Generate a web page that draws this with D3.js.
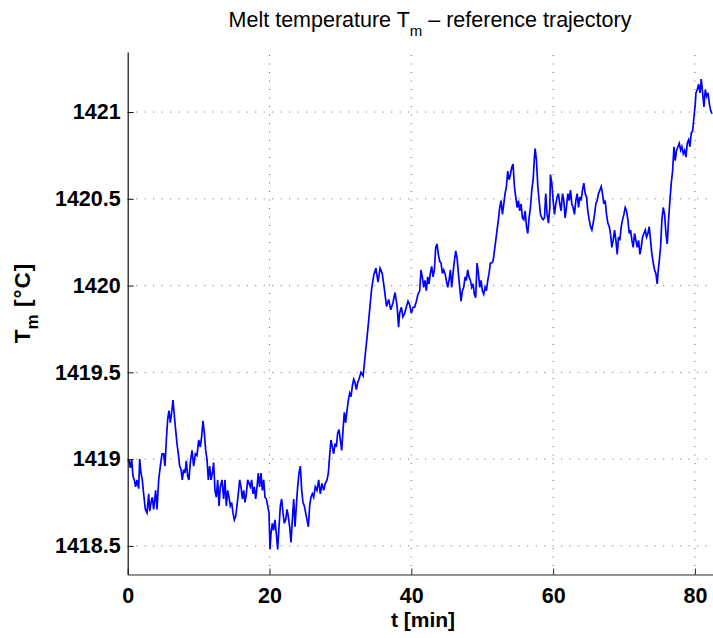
<!DOCTYPE html>
<html>
<head>
<meta charset="utf-8">
<script src="https://cdn.jsdelivr.net/npm/d3@7"></script>
<style>
  html, body { margin: 0; padding: 0; background: #fff; }
  svg { display: block; }
  text { font-family: "Liberation Sans", Arial, Helvetica, sans-serif; }
</style>
</head>
<body>
<div id="chart"></div>
<script>
// ---- data ----
const titleMain = "Melt temperature T";
const titleSub = "m";
const titleRest = " \u2013 reference trajectory";
const xLabel = "t [min]";
const yLabelMain = "T";
const yLabelSub = "m";
const yLabelRest = " [\u00B0C]";

const xTicks = [0, 20, 40, 60, 80];
const yTicks = [1418.5, 1419, 1419.5, 1420, 1420.5, 1421];
const xDomain = [0, 85];
const yDomain = [1418.335, 1421.346];

const time = [
  0.00,0.14,0.37,0.56,0.75,0.93,1.12,1.31,1.55,1.69,1.87,2.06,2.25,2.49,2.72,2.96,3.10,3.29,3.47,3.66,
  3.94,4.13,4.37,4.60,4.84,5.07,5.26,5.45,5.64,5.82,6.01,6.20,6.39,6.58,6.76,6.95,7.14,7.33,7.52,7.70,
  7.89,8.08,8.27,8.46,8.64,8.83,9.07,9.30,9.54,9.77,10.01,10.24,10.43,10.62,10.81,11.00,11.18,11.37,11.56,11.75,
  11.94,12.12,12.31,12.50,12.69,12.88,13.06,13.30,13.53,13.72,13.91,14.10,14.29,14.47,14.66,14.85,15.04,15.23,15.41,15.60,
  15.79,15.98,16.17,16.36,16.54,16.73,16.92,17.11,17.30,17.48,17.67,17.86,18.05,18.24,18.42,18.61,18.80,18.99,19.18,19.36,
  19.55,19.74,19.93,20.07,20.21,20.40,20.59,20.77,20.96,21.15,21.34,21.53,21.71,21.90,22.09,22.28,22.47,22.65,22.84,23.03,
  23.22,23.41,23.60,23.78,23.97,24.16,24.35,24.54,24.72,24.91,25.10,25.29,25.48,25.66,25.85,26.04,26.23,26.46,26.70,26.93,
  27.17,27.40,27.64,27.87,28.11,28.30,28.48,28.67,28.86,29.05,29.24,29.43,29.61,29.80,29.99,30.18,30.37,30.55,30.74,30.93,
  31.12,31.31,31.49,31.68,31.87,32.06,32.25,32.43,32.62,32.90,33.20,33.50,33.80,34.10,34.40,34.70,35.00,35.30,35.60,35.90,
  36.20,36.50,36.80,37.10,37.40,37.70,38.00,38.20,38.35,38.59,38.82,39.06,39.29,39.53,39.76,40.00,40.24,40.47,40.71,40.94,
  41.18,41.36,41.55,41.74,41.93,42.12,42.31,42.49,42.68,42.87,43.06,43.25,43.44,43.62,43.81,44.00,44.19,44.38,44.56,44.75,
  44.94,45.13,45.32,45.51,45.69,45.88,46.07,46.26,46.45,46.64,46.82,47.01,47.20,47.39,47.58,47.76,47.95,48.14,48.33,48.52,
  48.71,48.89,49.08,49.27,49.46,49.65,49.84,50.02,50.21,50.40,50.59,50.78,50.96,51.15,51.34,51.53,51.72,51.91,52.09,52.28,
  52.47,52.66,52.85,53.04,53.22,53.41,53.60,53.79,53.98,54.16,54.35,54.54,54.73,54.92,55.11,55.29,55.48,55.67,55.86,56.05,
  56.24,56.42,56.61,56.80,56.99,57.18,57.36,57.46,57.65,57.84,58.02,58.21,58.40,58.59,58.78,58.96,59.15,59.34,59.53,59.62,
  59.81,60.00,60.19,60.38,60.56,60.75,60.94,61.13,61.32,61.51,61.69,61.88,62.07,62.26,62.45,62.64,62.82,63.01,63.20,63.39,
  63.58,63.76,63.95,64.14,64.33,64.52,64.71,64.89,65.08,65.27,65.46,65.65,65.84,66.02,66.21,66.40,66.59,66.78,66.96,67.15,
  67.34,67.53,67.72,67.91,68.09,68.28,68.47,68.66,68.85,69.04,69.22,69.41,69.60,69.79,69.98,70.16,70.35,70.54,70.73,70.92,
  71.11,71.29,71.48,71.67,71.86,72.05,72.24,72.42,72.61,72.80,72.99,73.18,73.36,73.55,73.74,73.93,74.12,74.31,74.49,74.68,
  74.78,74.96,75.15,75.34,75.53,75.72,75.91,76.09,76.28,76.47,76.66,76.85,77.04,77.22,77.41,77.60,77.79,77.98,78.16,78.35,
  78.54,78.73,78.92,79.11,79.29,79.48,79.67,79.86,80.05,80.14,80.33,80.52,80.71,80.89,81.08,81.27,81.46,81.65,81.84,82.02,
  82.21,82.40
];

const temperature = [
  1418.98,1419.00,1418.95,1419.00,1418.90,1418.88,1418.84,1418.88,1418.83,1419.00,1418.92,1418.88,1418.80,1418.71,1418.69,1418.80,1418.70,1418.75,1418.78,1418.71,
  1418.82,1418.71,1418.88,1418.96,1419.03,1419.03,1418.96,1419.11,1419.23,1419.28,1419.21,1419.27,1419.34,1419.25,1419.17,1419.09,1419.03,1418.96,1418.94,1418.88,
  1418.94,1418.92,1418.99,1418.90,1418.88,1418.98,1419.05,1418.96,1419.03,1419.02,1419.11,1419.07,1419.13,1419.22,1419.15,1419.05,1419.00,1418.88,1418.96,1418.88,
  1418.92,1418.98,1418.82,1418.78,1418.88,1418.73,1418.84,1418.88,1418.77,1418.88,1418.73,1418.82,1418.78,1418.73,1418.75,1418.69,1418.65,1418.67,1418.73,1418.80,
  1418.88,1418.84,1418.77,1418.82,1418.75,1418.80,1418.88,1418.86,1418.84,1418.88,1418.80,1418.84,1418.77,1418.84,1418.92,1418.84,1418.92,1418.82,1418.88,1418.78,
  1418.77,1418.73,1418.69,1418.48,1418.57,1418.63,1418.59,1418.65,1418.57,1418.48,1418.61,1418.73,1418.77,1418.69,1418.63,1418.65,1418.71,1418.67,1418.61,1418.52,
  1418.65,1418.77,1418.61,1418.73,1418.84,1418.92,1418.96,1418.82,1418.75,1418.73,1418.69,1418.65,1418.61,1418.73,1418.78,1418.80,1418.78,1418.84,1418.82,1418.88,
  1418.80,1418.86,1418.82,1418.86,1418.88,1418.92,1419.02,1419.11,1419.07,1419.03,1419.09,1419.07,1419.15,1419.17,1419.11,1419.05,1419.17,1419.27,1419.21,1419.28,
  1419.34,1419.38,1419.36,1419.42,1419.46,1419.44,1419.40,1419.44,1419.46,1419.50,1419.48,1419.60,1419.72,1419.85,1419.98,1420.06,1420.10,1420.02,1420.10,1420.07,
  1419.98,1419.88,1419.92,1419.86,1419.90,1419.96,1419.88,1419.76,1419.84,1419.875,1419.82,1419.84,1419.875,1419.91,1419.89,1419.84,1419.875,1419.875,1419.91,1419.95,
  1419.97,1420.09,1420.05,1419.99,1420.03,1419.97,1420.05,1420.01,1420.07,1420.11,1420.05,1420.09,1420.22,1420.24,1420.18,1420.14,1420.13,1420.07,1420.09,1420.07,
  1420.03,1419.99,1420.03,1420.09,1419.99,1420.07,1420.14,1420.20,1420.16,1420.07,1419.99,1419.91,1419.97,1419.99,1420.05,1420.03,1420.09,1420.05,1420.03,1419.99,
  1420.01,1419.95,1419.93,1420.13,1420.07,1419.99,1420.03,1419.97,1419.95,1419.99,1419.97,1420.03,1420.07,1420.13,1420.13,1420.14,1420.20,1420.26,1420.32,1420.38,
  1420.45,1420.49,1420.41,1420.47,1420.53,1420.57,1420.66,1420.61,1420.64,1420.68,1420.70,1420.57,1420.51,1420.45,1420.49,1420.43,1420.47,1420.39,1420.38,1420.43,
  1420.34,1420.30,1420.39,1420.45,1420.55,1420.61,1420.74,1420.79,1420.72,1420.57,1420.49,1420.41,1420.39,1420.38,1420.39,1420.53,1420.41,1420.36,1420.45,1420.64,
  1420.59,1420.49,1420.41,1420.47,1420.51,1420.53,1420.47,1420.43,1420.53,1420.49,1420.39,1420.45,1420.53,1420.49,1420.55,1420.47,1420.45,1420.41,1420.49,1420.53,
  1420.45,1420.51,1420.49,1420.55,1420.59,1420.53,1420.51,1420.43,1420.38,1420.34,1420.32,1420.36,1420.41,1420.47,1420.49,1420.53,1420.55,1420.57,1420.53,1420.47,
  1420.49,1420.41,1420.36,1420.34,1420.30,1420.22,1420.26,1420.32,1420.26,1420.18,1420.28,1420.26,1420.34,1420.38,1420.41,1420.45,1420.43,1420.38,1420.30,1420.32,
  1420.26,1420.22,1420.30,1420.26,1420.22,1420.26,1420.18,1420.22,1420.28,1420.30,1420.32,1420.28,1420.30,1420.34,1420.26,1420.18,1420.13,1420.09,1420.07,1420.01,
  1420.07,1420.14,1420.22,1420.38,1420.45,1420.41,1420.30,1420.24,1420.38,1420.49,1420.59,1420.66,1420.80,1420.72,1420.78,1420.80,1420.82,1420.78,1420.80,1420.76,
  1420.78,1420.74,1420.82,1420.84,1420.80,1420.88,1420.89,1420.97,1421.05,1421.11,1421.13,1421.16,1421.11,1421.19,1421.11,1421.03,1421.13,1421.09,1421.11,1421.05,
  1421.01,1420.99
];

// ---- layout ----
const W = 713, H = 638;
const plotLeft = 127.7, plotTop = 52, plotBottom = 574.5;
const plotRight = 730.4; // axes extend slightly beyond the visible window

const svg = d3.select("#chart").append("svg")
  .attr("width", W).attr("height", H);

const x = d3.scaleLinear().domain(xDomain).range([plotLeft, plotRight]);
const y = d3.scaleLinear().domain(yDomain).range([plotBottom, plotTop]);

// grid
const grid = svg.append("g").attr("class", "grid");
grid.selectAll("line.vg").data(xTicks.filter(d => d > 0)).enter().append("line")
  .attr("x1", d => x(d)).attr("x2", d => x(d))
  .attr("y1", plotBottom).attr("y2", plotTop)
  .attr("stroke", "#6a6a6a").attr("stroke-width", 1)
  .attr("stroke-dasharray", "1,7.5");
grid.selectAll("line.hg").data(yTicks).enter().append("line")
  .attr("x1", plotLeft).attr("x2", plotRight)
  .attr("y1", d => y(d)).attr("y2", d => y(d))
  .attr("stroke", "#6a6a6a").attr("stroke-width", 1)
  .attr("stroke-dasharray", "1,7.5");

// clip
svg.append("clipPath").attr("id", "clip").append("rect")
  .attr("x", plotLeft).attr("y", plotTop)
  .attr("width", plotRight - plotLeft).attr("height", plotBottom - plotTop);

const pts = time.map((t, i) => [t, temperature[i]]);
const line = d3.line().x(d => x(d[0])).y(d => y(d[1]));
svg.append("path")
  .datum(pts)
  .attr("clip-path", "url(#clip)")
  .attr("fill", "none")
  .attr("stroke", "#0000ff")
  .attr("stroke-width", 1.7)
  .attr("stroke-linejoin", "miter")
  .attr("d", line);

// axes
const xAxis = d3.axisBottom(x).tickValues(xTicks).tickSizeInner(-6).tickSizeOuter(0).tickPadding(13)
  .tickFormat(d3.format("d"));
const gx = svg.append("g").attr("transform", `translate(0,${plotBottom})`).call(xAxis);
gx.select(".domain").attr("stroke", "#2a2a2a").attr("stroke-width", 1.2);
gx.selectAll(".tick line").attr("stroke", "#2a2a2a");
gx.selectAll(".tick text")
  .attr("font-size", "21.5px").attr("font-weight", "bold").attr("fill", "#000")
  .attr("font-family", "Liberation Sans, Arial, sans-serif");

const yAxis = d3.axisLeft(y).tickValues(yTicks).tickSizeInner(-6).tickSizeOuter(0).tickPadding(7)
  .tickFormat(d => String(d));
const gy = svg.append("g").attr("transform", `translate(${plotLeft},0)`).call(yAxis);
gy.select(".domain").attr("stroke", "#111").attr("stroke-width", 1.2);
gy.selectAll(".tick line").attr("stroke", "#111");
gy.selectAll(".tick text")
  .attr("font-size", "21.5px").attr("font-weight", "bold").attr("fill", "#000")
  .attr("font-family", "Liberation Sans, Arial, sans-serif");

// x label
svg.append("text")
  .attr("x", 423).attr("y", 627)
  .attr("text-anchor", "middle")
  .attr("font-size", "21px").attr("font-weight", "bold")
  .text(xLabel);

// y label (rotated)
const yl = svg.append("text")
  .attr("transform", "translate(30,303) rotate(-90)")
  .attr("text-anchor", "middle")
  .attr("font-size", "22.5px").attr("font-weight", "bold");
yl.append("tspan").text(yLabelMain);
yl.append("tspan").attr("dy", 8).attr("font-size", "17px").text(yLabelSub);
yl.append("tspan").attr("dy", -8).attr("letter-spacing", "1px").text(yLabelRest);

// title
const tt = svg.append("text")
  .attr("x", 430).attr("y", 27)
  .attr("text-anchor", "middle")
  .attr("font-size", "21.5px").attr("font-weight", "normal");
tt.append("tspan").text(titleMain);
tt.append("tspan").attr("dy", 9).attr("font-size", "15px").text(titleSub);
tt.append("tspan").attr("dy", -9).text(titleRest);
</script>
</body>
</html>
